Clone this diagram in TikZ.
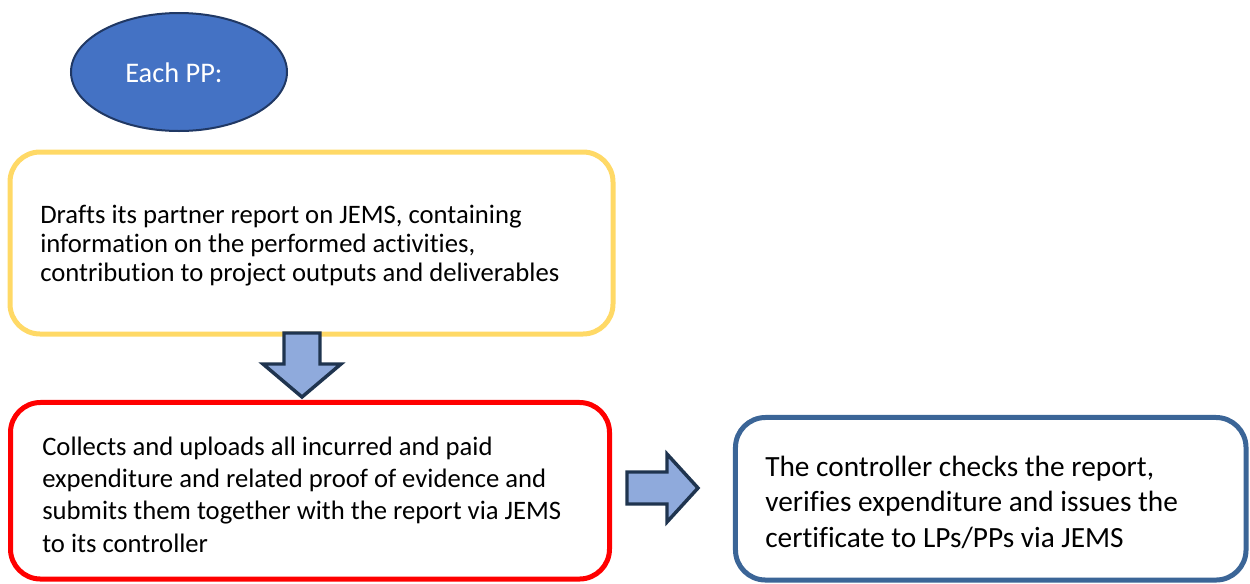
\documentclass[tikz,border=0pt]{standalone}
\usepackage{fontspec}
\setmainfont{Carlito}[Ligatures=NoCommon]
\usetikzlibrary{shapes.geometric}
\definecolor{ppblue}{HTML}{4472C4}
\definecolor{ppnavy}{HTML}{203864}
\definecolor{boxyellow}{HTML}{FFD966}
\definecolor{boxred}{HTML}{FF0000}
\definecolor{boxblue}{HTML}{3B6597}
\definecolor{arrowfill}{HTML}{8FAADC}
\definecolor{arrowline}{HTML}{1F344F}
\begin{document}
\begin{tikzpicture}[x=0.75pt,y=-0.75pt,
  stepbox/.style={draw, line width=3.75pt, rounded corners=22.5pt, fill=white, inner sep=0pt},
  blockarrow/.style={draw=arrowline, fill=arrowfill, line width=2.6pt, line join=miter},
  boxtext/.style={anchor=base west, align=left, inner sep=0pt}]
  \useasboundingbox (0,0) rectangle (1250,583);

  % start bubble
  \node[ellipse, draw=ppnavy, fill=ppblue, line width=1.5pt,
        minimum width=162pt, minimum height=88.5pt] (start) at (179,72) {};
  \node[boxtext, text=white, font=\fontsize{21.3}{25}\selectfont] (starttext) at (125,82) {Each PP:};

  % process boxes
  \node[stepbox, draw=boxyellow, minimum width=452.25pt, minimum height=136.5pt] (draft) at (311.5,243) {};
  \node[stepbox, draw=boxred, minimum width=449.25pt, minimum height=132.4pt] (collect) at (310,490.75) {};
  \node[stepbox, draw=boxblue, minimum width=382.9pt, minimum height=121.9pt] (check) at (990.75,498.75) {};

  % texts, placed by the baseline of their last line
  \node[boxtext, font=\fontsize{20}{21.75}\selectfont] (drafttext) at (40,281)
    {Drafts its partner report on JEMS, containing\\information on the performed activities,\\contribution to project outputs and deliverables};
  \node[boxtext, font=\fontsize{20}{24.25}\selectfont] (collecttext) at (42,552)
    {Collects and uploads all incurred and paid\\expenditure and related proof of evidence and\\submits them together with the report via JEMS\\to its controller};
  \node[boxtext, font=\fontsize{22}{26.6}\selectfont] (checktext) at (765,547)
    {The controller checks the report,\\verifies expenditure and issues the\\certificate to LPs/PPs via JEMS};

  % block arrows between the steps
  \draw[blockarrow] (284,333) -- (320,333) -- (320,364) -- (341,364) -- (302,397)
    -- (263,364) -- (284,364) -- cycle;
  \draw[blockarrow] (627,472) -- (667,472) -- (667,454) -- (698,488) -- (667,522)
    -- (667,504) -- (627,504) -- cycle;
\end{tikzpicture}
\end{document}
